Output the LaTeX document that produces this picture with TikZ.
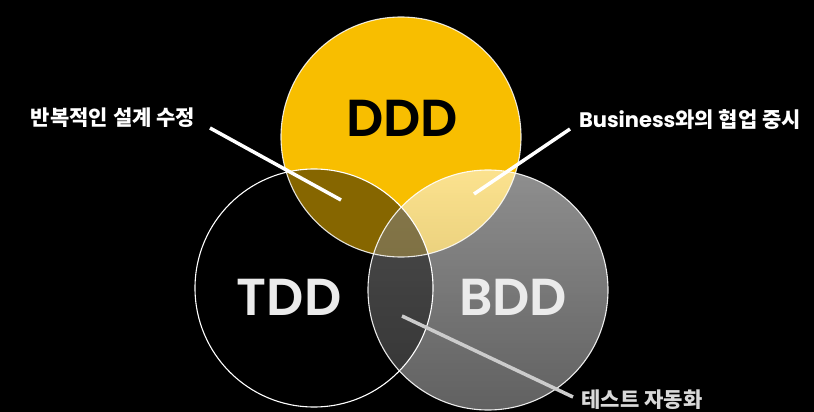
\documentclass[tikz,border=0pt]{standalone}
\usepackage{fontspec}
\setmainfont{Poppins}
\newfontfamily\popsemi{Poppins SemiBold}
\newfontfamily\kor{Noto Sans CJK KR}
\definecolor{dddyellow}{RGB}{248,190,0}
\begin{document}
\begin{tikzpicture}[x=1pt,y=-1pt,
  ring/.style={draw=white, line width=1.1pt},
  big/.style={font=\fontsize{52}{56}\popsemi},
  lbl/.style={font=\fontsize{21}{24}\selectfont\bfseries, text=white},
  callout/.style={draw=white, line width=3.5pt}]
\fill[black] (0,0) rectangle (814,412);
\useasboundingbox (0,0) rectangle (814,412);
% circles
\coordinate (cD) at (401,137);
\coordinate (cT) at (314,288);
\coordinate (cB) at (488,290);
\fill[dddyellow] (cD) circle (120);
\shade[top color=white, bottom color=white!68!black, fill opacity=0.56] (cB) circle (120);
\fill[black, fill opacity=0.46] (cT) circle (119);
\draw[ring, draw opacity=0.85] (cD) circle (120);
\draw[ring, draw opacity=0.9] (cB) circle (120);
\draw[ring] (cT) circle (119);
% titles
\node[big, text=black] (ddd) at (402,118) {DDD};
\node[big, text=white!92!black] (tdd) at (289,297) {TDD};
\node[big, text=white!92!black] (bdd) at (513,297) {BDD};
% labels
\node[lbl] (l1) at (113,118) {\kor\bfseries 반복적인 설계 수정};
\node[lbl] (l2) at (690,120) {Business{\kor\bfseries 와의 협업 중시}};
\node[lbl, text=white!85!black] (l3) at (642,400) {\kor\bfseries 테스트 자동화};
% callouts
\coordinate (a1) at (210,128); \coordinate (b1) at (341,200);
\coordinate (a2) at (570,129); \coordinate (b2) at (474,194);
\coordinate (a3) at (402,316); \coordinate (b3) at (573,397);
\draw[callout] (a1) -- (b1);
\draw[callout] (a2) -- (b2);
\draw[callout, draw=white!80!black] (a3) -- (b3);
\end{tikzpicture}
\end{document}
